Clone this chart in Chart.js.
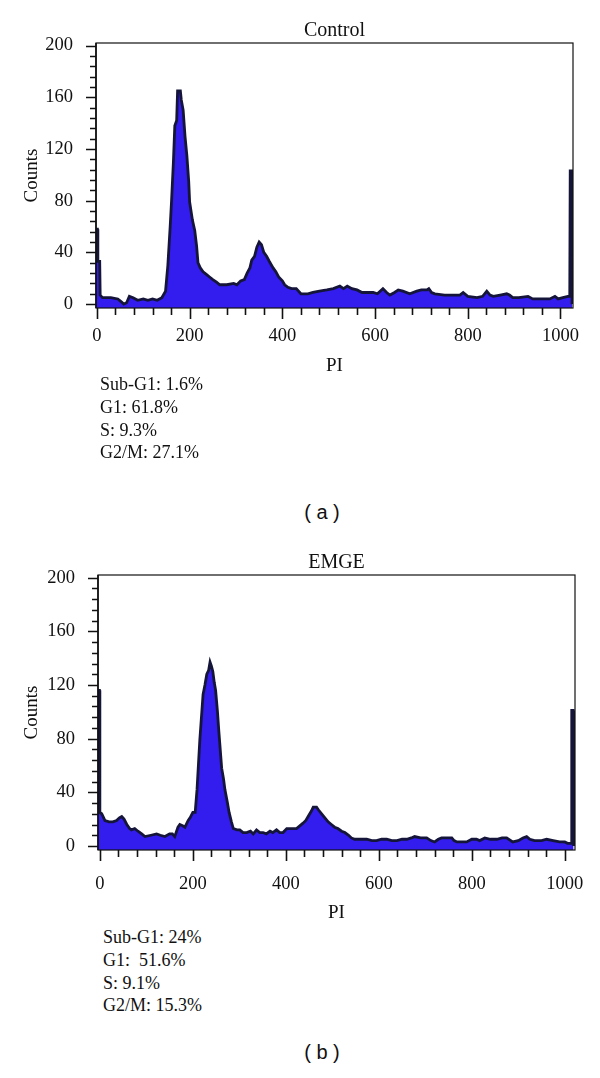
<!DOCTYPE html>
<html>
<head>
<meta charset="utf-8">
<script src="https://cdn.jsdelivr.net/npm/chart.js@4"></script>
<style>
  body { margin: 0; background: #fff; width: 600px; height: 1078px; position: relative; overflow: hidden; }
  canvas { position: absolute; left: 0; }
  .stats { position: absolute; font-family: "Liberation Serif", serif; font-size: 18px; line-height: 22.8px; color: #111; white-space: pre; }
  .panel { position: absolute; font-family: "Liberation Sans", sans-serif; font-size: 20px; color: #111; width: 600px; text-align: center; white-space: pre; }
</style>
</head>
<body>
<canvas id="chartA" width="600" height="382" style="top:0"></canvas>
<div class="stats" style="left:100px; top:373px">Sub-G1: 1.6%
G1: 61.8%
S: 9.3%
G2/M: 27.1%</div>
<div class="panel" style="left:22px; top:501px">( a )</div>

<canvas id="chartB" width="600" height="386" style="top:540px"></canvas>
<div class="stats" style="left:103px; top:926px">Sub-G1: 24%
G1:  51.6%
S: 9.1%
G2/M: 15.3%</div>
<div class="panel" style="left:22px; top:1041px">( b )</div>

<script>
// Control histogram (PI channel, counts)
const controlPI = [-2, 1, 2, 6, 7, 12, 30, 45, 52, 58, 64, 70, 78, 88, 100, 110, 120, 130, 140, 148, 153, 158, 161, 165, 168, 172, 174, 180, 182, 186, 190, 194, 198, 200, 206, 211, 215, 218, 223, 229, 236, 243, 250, 258, 265, 280, 295, 302, 310, 318, 324, 330, 334, 340, 345, 350, 355, 360, 366, 372, 380, 386, 392, 400, 405, 412, 420, 430, 440, 455, 466, 480, 496, 510, 524, 532, 540, 550, 561, 572, 582, 596, 605, 617, 625, 632, 642, 650, 660, 675, 690, 700, 712, 716, 722, 729, 750, 770, 783, 790, 800, 820, 832, 841, 848, 855, 870, 884, 890, 897, 910, 930, 940, 960, 977, 988, 995, 1005, 1016, 1020, 1021, 1024, 1025];
const controlCounts = [58, 58, 33, 33, 7, 5, 5, 4, 2, 0, 1, 6, 5, 3, 4, 3, 4, 3, 5, 10, 30, 60, 80, 110, 138, 142, 165, 165, 158, 150, 130, 115, 95, 79, 65, 57, 45, 32, 28, 25, 23, 21, 19, 17, 15, 15, 16, 15, 18, 19, 24, 28, 34, 37, 44, 48, 46, 40, 37, 33, 28, 25, 21, 18, 15, 13, 12, 12, 8, 8, 9, 10, 11, 12, 14, 12, 14, 12, 11, 9, 9, 9, 8, 12, 9, 7, 9, 11, 10, 8, 10, 11, 11, 12, 9, 8, 7, 7, 7, 9, 6, 5, 6, 10, 7, 6, 7, 8, 7, 5, 5, 6, 4, 4, 4, 6, 4, 5, 6, 6, 103, 103, 0];

// EMGE histogram (PI channel, counts)
const emgePI = [-4, -1, 0, 4, 11, 20, 28, 36, 42, 47, 52, 58, 64, 68, 75, 82, 90, 97, 110, 122, 130, 140, 150, 156, 161, 168, 172, 178, 183, 190, 194, 200, 205, 209, 215, 222, 226, 230, 234, 237, 240, 243, 246, 249, 253, 256, 262, 266, 269, 274, 278, 283, 287, 295, 301, 308, 316, 324, 330, 337, 344, 351, 358, 366, 372, 380, 387, 394, 402, 412, 423, 430, 437, 443, 448, 455, 459, 466, 470, 477, 484, 491, 498, 505, 512, 520, 527, 535, 541, 548, 560, 574, 585, 595, 606, 617, 628, 639, 650, 660, 670, 677, 690, 703, 712, 720, 728, 735, 757, 762, 768, 789, 800, 810, 817, 828, 840, 854, 865, 875, 888, 900, 910, 918, 925, 935, 950, 961, 975, 989, 1000, 1006, 1014, 1015, 1018, 1019];
const emgeCounts = [116, 116, 25, 24, 19, 18, 18, 19, 21, 22, 20, 16, 13, 12, 13, 11, 9, 7, 8, 9, 8, 7, 9, 9, 7, 14, 16, 15, 14, 19, 21, 25, 25, 42, 79, 113, 120, 128, 131, 137, 134, 130, 122, 116, 100, 85, 58, 50, 42, 33, 25, 18, 13, 12, 12, 10, 10, 11, 9, 12, 10, 10, 9, 11, 10, 12, 10, 10, 13, 13, 13, 15, 17, 19, 22, 26, 29, 29, 27, 24, 21, 18, 16, 14, 13, 11, 10, 8, 6, 5, 5, 5, 4, 4, 5, 5, 4, 4, 5, 5, 6, 7, 6, 6, 4, 3, 5, 6, 6, 4, 3, 3, 5, 5, 4, 6, 5, 5, 6, 6, 3, 4, 6, 7, 5, 4, 4, 5, 4, 3, 3, 2, 2, 101, 101, 0];

const yLabelTicks = [0, 40, 80, 120, 160, 200];
const xLabelTicks = [0, 200, 400, 600, 800, 1000];

const serif = '"Liberation Serif", "Times New Roman", serif';

// frame around the plot plus long/short tick marks
const frameTicks = {
  id: 'frameTicks',
  afterDraw(chart) {
    const { ctx, chartArea: a, scales: { x, y } } = chart;
    ctx.save();
    ctx.strokeStyle = '#111';
    ctx.lineWidth = 1.2;
    ctx.strokeRect(a.left, a.top, a.right - a.left, a.bottom - a.top);
    ctx.lineWidth = 1.6;
    ctx.beginPath();
    ctx.moveTo(a.left, a.top);
    ctx.lineTo(a.left, a.bottom);
    for (let v = 0; v <= 200; v += 8) {
      const py = Math.round(y.getPixelForValue(v)) + 0.5;
      const len = v % 40 ? 6 : 10;
      ctx.moveTo(a.left - len, py);
      ctx.lineTo(a.left, py);
    }
    for (let v = 0; v <= 1000; v += 40) {
      const px = Math.round(x.getPixelForValue(v)) + 0.5;
      const len = v % 200 ? 7 : 11;
      ctx.moveTo(px, a.bottom);
      ctx.lineTo(px, a.bottom + len);
    }
    ctx.stroke();
    ctx.restore();
  }
};

function makeChart(id, title, pi, counts, o) {
  const points = pi.map((p, i) => ({ x: p, y: counts[i] }));
  return new Chart(document.getElementById(id), {
    type: 'line',
    data: {
      datasets: [{
        data: points,
        fill: 'start',
        backgroundColor: 'rgb(50, 28, 238)',
        borderColor: '#15153a',
        borderWidth: 2.8,
        pointRadius: 0,
        tension: 0
      }]
    },
    options: {
      responsive: false,
      animation: false,
      devicePixelRatio: 1,
      layout: { padding: { top: o.padTop, right: o.padRight, left: 0, bottom: 0 } },
      plugins: {
        legend: { display: false },
        tooltip: { enabled: false },
        title: {
          display: true, text: title, fullSize: false, color: '#111',
          font: { family: serif, size: 20, weight: 'normal' },
          padding: { top: o.titleTop, bottom: 0 }
        }
      },
      scales: {
        x: {
          type: 'linear', min: o.xMin, max: o.xMax,
          grid: { display: false, drawTicks: false },
          border: { display: false },
          afterBuildTicks: s => { s.ticks = xLabelTicks.map(v => ({ value: v })); },
          afterFit: s => { s.height = o.xHeight; s.paddingLeft = 0; s.paddingRight = 0; },
          ticks: {
            color: '#111', padding: o.xPad, maxRotation: 0, autoSkip: false,
            font: { family: serif, size: 18.5 },
            callback: v => String(v)
          },
          title: { display: true, text: 'PI', color: '#111', font: { family: serif, size: 19 }, padding: { top: 0, bottom: o.piPad } }
        },
        y: {
          min: -3, max: 202,
          grid: { display: false, drawTicks: false },
          border: { display: false },
          afterBuildTicks: s => { s.ticks = yLabelTicks.map(v => ({ value: v })); },
          afterFit: s => { s.width = o.yWidth; s.paddingTop = 0; s.paddingBottom = 0; },
          ticks: { color: '#111', padding: 23, font: { family: serif, size: 18.5 }, callback: v => String(v) },
          title: { display: true, text: 'Counts', color: '#111', font: { family: serif, size: 19 }, padding: { top: 20.5, bottom: 0 } }
        }
      }
    },
    plugins: [frameTicks]
  });
}

makeChart('chartA', 'Control', controlPI, controlCounts, {
  padTop: 1, padRight: 27, titleTop: 18, xMin: -2, xMax: 1027,
  xHeight: 74, xPad: 17, piPad: 4.6, yWidth: 96
});

makeChart('chartB', 'EMGE', emgePI, emgeCounts, {
  padTop: 3, padRight: 25, titleTop: 8, xMin: -4, xMax: 1022,
  xHeight: 76, xPad: 23, piPad: 1.6, yWidth: 98
});
</script>
</body>
</html>
